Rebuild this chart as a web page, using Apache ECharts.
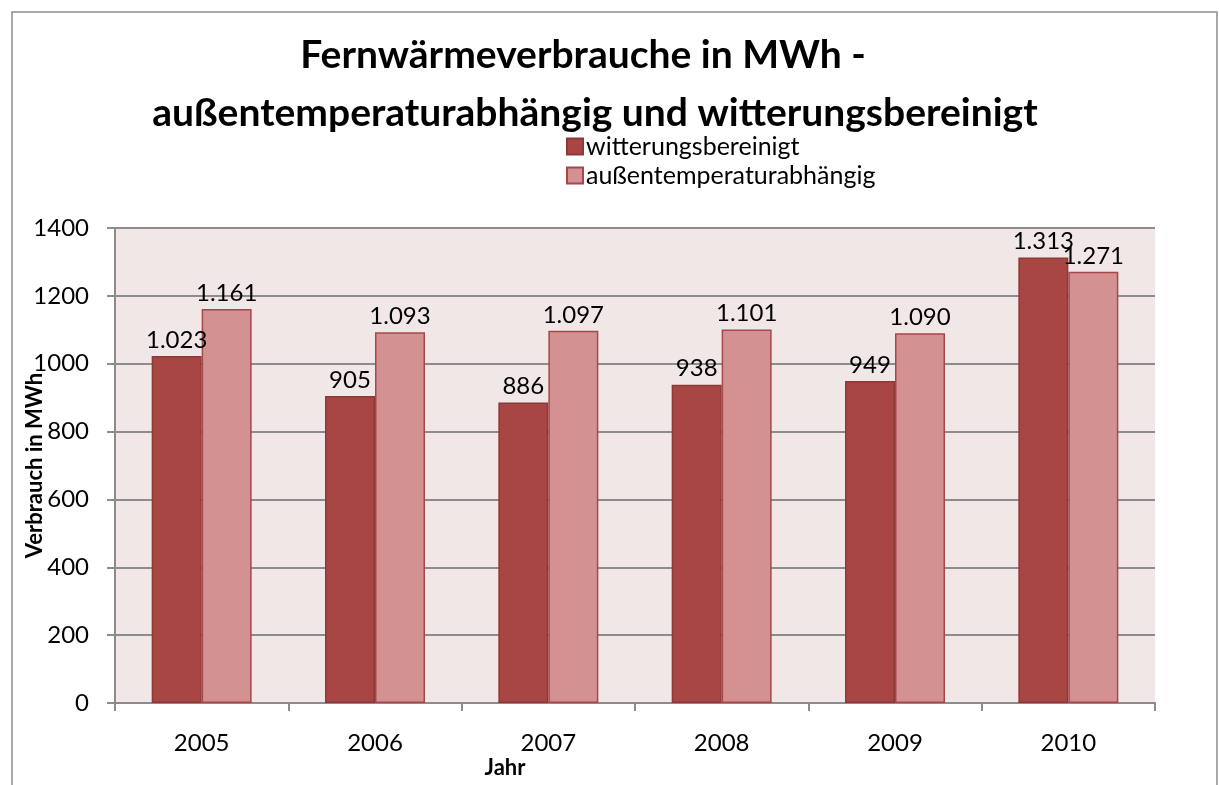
<!DOCTYPE html>
<html>
<head>
<meta charset="utf-8">
<script src="https://cdn.jsdelivr.net/npm/echarts@6/dist/echarts.min.js"></script>
<style>
html, body { margin: 0; padding: 0; background: #fff; }
#chart { width: 1219px; height: 785px; }
</style>
</head>
<body>
<div id="chart"></div>
<script>
var jahre = ['2005', '2006', '2007', '2008', '2009', '2010'];
var witterungsbereinigt = [1023, 905, 886, 938, 949, 1313];
var aussentemperatur = [1161, 1093, 1097, 1101, 1090, 1271];

var schrift = 'Lato';

// Tausenderpunkt wie im Original (1.023)
function fmt(v) {
    if (v < 1000) return String(v);
    var rest = String(v % 1000);
    while (rest.length < 3) rest = '0' + rest;
    return Math.floor(v / 1000) + '.' + rest;
}

var titelStil = {
    fontFamily: schrift,
    fontWeight: 'bold',
    fontSize: 39,
    color: '#000'
};

var myChart = echarts.init(document.getElementById('chart'));

var option = {
    backgroundColor: '#fff',
    animation: false,
    title: [{
        text: 'Fernwärmeverbrauche in MWh -',
        left: 578,
        top: 31,
        textAlign: 'center',
        textStyle: titelStil
    }, {
        text: 'außentemperaturabhängig und witterungsbereinigt',
        left: 590,
        top: 89,
        textAlign: 'center',
        textStyle: titelStil
    }],
    legend: {
        orient: 'vertical',
        left: 561,
        top: 129,
        icon: 'rect',
        itemWidth: 16,
        itemHeight: 16,
        itemGap: 4,
        textStyle: { fontFamily: schrift, fontSize: 25, color: '#000', padding: [0, 0, 0, -2] },
        data: ['witterungsbereinigt', 'außentemperaturabhängig']
    },
    grid: {
        left: 115,
        top: 228,
        width: 1040,
        height: 475,
        outerBoundsMode: 'none',
        containLabel: false,
        show: true,
        backgroundColor: '#F2E7E7',
        borderWidth: 0
    },
    xAxis: {
        type: 'category',
        data: jahre,
        axisLine: { lineStyle: { color: '#8c8c8c', width: 2 } },
        axisTick: { show: true, length: 8, lineStyle: { color: '#8c8c8c', width: 2 } },
        axisLabel: { fontFamily: schrift, fontSize: 24, color: '#000', margin: 28 }
    },
    yAxis: {
        type: 'value',
        min: 0,
        max: 1400,
        interval: 200,
        name: 'Verbrauch in MWh',
        nameLocation: 'middle',
        nameRotate: 90,
        nameGap: 69,
        nameMoveOverlap: false,
        nameTextStyle: { fontFamily: schrift, fontWeight: 'bold', fontSize: 22, color: '#000' },
        axisLine: { show: true, lineStyle: { color: '#8c8c8c', width: 2 } },
        axisTick: { show: true, length: 8, lineStyle: { color: '#8c8c8c', width: 2 } },
        axisLabel: {
            fontFamily: schrift, fontSize: 24, color: '#000', margin: 26,
            formatter: function (v) { return String(v); }
        },
        splitLine: { lineStyle: { color: '#8c8c8c', width: 2 } }
    },
    series: [{
        name: 'witterungsbereinigt',
        type: 'bar',
        data: witterungsbereinigt,
        barWidth: 50,
        barGap: '0%',
        itemStyle: { color: '#A84644', borderColor: '#8E3838', borderWidth: 1.5 },
        label: {
            show: true, position: 'top', distance: 4,
            fontFamily: schrift, fontSize: 24, color: '#000',
            formatter: function (p) { return fmt(p.value); }
        }
    }, {
        name: 'außentemperaturabhängig',
        type: 'bar',
        data: aussentemperatur,
        barWidth: 50,
        itemStyle: { color: '#D39291', borderColor: '#A4484A', borderWidth: 1.5 },
        label: {
            show: true, position: 'top', distance: 4,
            fontFamily: schrift, fontSize: 24, color: '#000',
            formatter: function (p) { return fmt(p.value); }
        }
    }],
    graphic: [{
        type: 'rect',
        shape: { x: 12, y: 12, width: 1205, height: 800 },
        style: { fill: 'none', stroke: '#8c8c8c', lineWidth: 1.5 },
        silent: true
    }, {
        type: 'text',
        x: 505,
        y: 768,
        style: {
            text: 'Jahr',
            fontFamily: schrift,
            fontWeight: 'bold',
            fontSize: 22,
            fill: '#000',
            textAlign: 'center',
            textVerticalAlign: 'middle'
        }
    }]
};

myChart.setOption(option);
</script>
</body>
</html>
